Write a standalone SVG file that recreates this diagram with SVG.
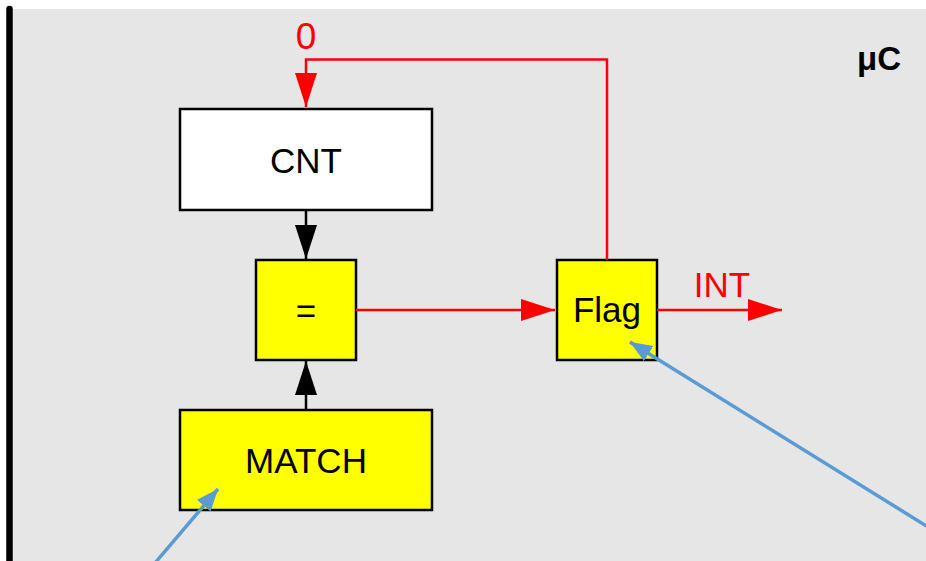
<svg xmlns="http://www.w3.org/2000/svg" width="926" height="561" viewBox="0 0 926 561">
<style>
.box{stroke:#000;stroke-width:2.5}
.y{fill:#FFFF00}
.t{font-family:"Liberation Sans",Arial,sans-serif;font-size:35px;text-anchor:middle;fill:#000}
.red{stroke:#FF0000;stroke-width:2.5;fill:none}
.blk{stroke:#000;stroke-width:2.5;fill:none}
.blue{stroke:#5B9BD5;stroke-width:3.5;fill:none}
</style>
<defs>
<marker id="ar" markerUnits="userSpaceOnUse" markerWidth="36" markerHeight="24" refX="34" refY="11" orient="auto"><path d="M0,0 L34,11 L0,22 Z" fill="#FF0000"/></marker>
<marker id="ab" markerUnits="userSpaceOnUse" markerWidth="36" markerHeight="24" refX="34" refY="11" orient="auto"><path d="M0,0 L34,11 L0,22 Z" fill="#000"/></marker>
<marker id="au" markerUnits="userSpaceOnUse" markerWidth="24" markerHeight="20" refX="22" refY="9" orient="auto"><path d="M0,0 L22,9 L0,18 Z" fill="#5B9BD5"/></marker>
</defs>
<rect x="0" y="0" width="926" height="561" fill="#FFFFFF"/>
<rect x="9" y="9" width="917" height="552" fill="#E6E6E6"/>
<line x1="9.5" y1="9" x2="9.5" y2="565" stroke="#000" stroke-width="6.5" stroke-linecap="round"/>
<text x="879" y="70" font-family="'Liberation Sans',Arial,sans-serif" font-size="33" font-weight="bold" text-anchor="middle">μC</text>
<g id="cnt">
<rect class="box" x="180" y="109" width="252" height="101" fill="#FFFFFF"/>
<text class="t" x="306" y="173">CNT</text>
</g>
<g id="eq">
<rect class="box y" x="256" y="260" width="100" height="100"/>
<text class="t" x="306" y="323">=</text>
</g>
<g id="match">
<rect class="box y" x="180" y="410" width="252" height="100"/>
<text class="t" x="306" y="473">MATCH</text>
</g>
<g id="flag">
<rect class="box y" x="557" y="260" width="100" height="100"/>
<text class="t" x="607" y="322">Flag</text>
</g>
<g id="connectors">
<path class="red" d="M607,260 V59.5 H306 V107" marker-end="url(#ar)"/>
<path class="red" d="M356,310 H555" marker-end="url(#ar)"/>
<path class="red" d="M657,310 H782" marker-end="url(#ar)"/>
<path class="blk" d="M306,210 V259" marker-end="url(#ab)"/>
<path class="blk" d="M306,410 V361" marker-end="url(#ab)"/>
<path class="blue" d="M155,563 L218,489" marker-end="url(#au)"/>
<path class="blue" d="M928,527 L630,342" marker-end="url(#au)"/>
<text x="306" y="49" class="t" style="fill:#FF0000;font-size:37px">0</text>
<text x="722" y="297" class="t" style="fill:#FF0000">INT</text>
</g>
</svg>
